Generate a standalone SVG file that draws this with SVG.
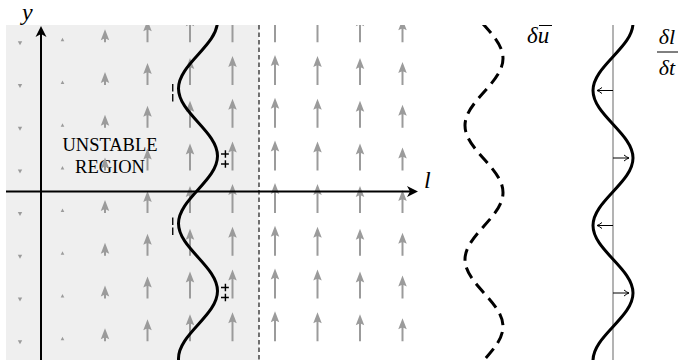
<svg xmlns="http://www.w3.org/2000/svg" xmlns:xlink="http://www.w3.org/1999/xlink" width="679" height="360" viewBox="0 0 679 360">
<style>
.curve{fill:none;stroke:#000;stroke-width:3}
.axis{fill:none;stroke:#000;stroke-width:2}
.qv{fill:#9b9b9b}
.math{font-family:"Liberation Serif","DejaVu Serif",serif;font-style:italic;fill:#000}
.lbl{font-family:"Liberation Serif","Times New Roman",serif;font-size:18.5px;fill:#000;text-anchor:middle}
.sign{font-family:"DejaVu Sans",sans-serif;font-weight:bold;font-size:12px;letter-spacing:0px;text-anchor:middle;dominant-baseline:central;fill:#000}
.thin{fill:none;stroke:#000;stroke-width:1}
</style>
<defs>
<filter id="gray" x="-50%" y="-50%" width="200%" height="200%"><feColorMatrix type="saturate" values="0"/></filter>
<clipPath id="plotclip"><rect x="6" y="25" width="420" height="335"/></clipPath>
<clipPath id="rclip"><rect x="440" y="25" width="239" height="335"/></clipPath>
<marker id="axh" viewBox="0 0 12 12" refX="7" refY="6" markerWidth="12" markerHeight="12" markerUnits="userSpaceOnUse" orient="auto">
<path d="M0,0.5 L11,6 L0,11.5 L3,6 Z" fill="#000"/>
</marker>
<marker id="sm" viewBox="-6 -4 7 8" refX="0" refY="0" markerWidth="7" markerHeight="8" markerUnits="userSpaceOnUse" orient="auto">
<path d="M-5,-3 Q-2,-0.6 0,0 Q-2,0.6 -5,3" fill="none" stroke="#000" stroke-width="1"/>
</marker>
<g id="row" class="qv">
<path d="M17.8,-1 L22.2,-1 L20,3 Z"/>
<path d="M60.7,-1 L64.3,-1 L62.5,-4.5 Z"/>
<path d="M104,0 L104,-3.5 L100.75,-2 L105,-13 L109.25,-2 L106,-3.5 L106,0 Z"/>
<path d="M146.5,0 L146.5,-12.5 L143.25,-11 L147.5,-22 L151.75,-11 L148.5,-12.5 L148.5,0 Z"/>
<path d="M189,0 L189,-17.5 L185.75,-16 L190,-27 L194.25,-16 L191,-17.5 L191,0 Z"/>
<path d="M231.5,0 L231.5,-19.5 L228.25,-18 L232.5,-29 L236.75,-18 L233.5,-19.5 L233.5,0 Z"/>
<path d="M274,0 L274,-20.5 L270.75,-19 L275,-30 L279.25,-19 L276,-20.5 L276,0 Z"/>
<path d="M316.5,0 L316.5,-19.5 L313.25,-18 L317.5,-29 L321.75,-18 L318.5,-19.5 L318.5,0 Z"/>
<path d="M359,0 L359,-17.5 L355.75,-16 L360,-27 L364.25,-16 L361,-17.5 L361,0 Z"/>
<path d="M401.5,0 L401.5,-13.5 L398.25,-12 L402.5,-23 L406.75,-12 L403.5,-13.5 L403.5,0 Z"/>
</g>
</defs>

<g id="unstable-region">
<rect x="6" y="25" width="253" height="335" fill="#efefef"/>
<line x1="259" y1="25" x2="259" y2="360" stroke="#444" stroke-width="1.5" stroke-dasharray="4.5 3"/>
<text class="lbl" x="110" y="151">UNSTABLE</text>
<text class="lbl" x="110" y="172.5">REGION</text>
</g>

<g id="velocity-field" clip-path="url(#plotclip)">
<use xlink:href="#row" href="#row" y="42.3"/>
<use xlink:href="#row" href="#row" y="85"/>
<use xlink:href="#row" href="#row" y="127.7"/>
<use xlink:href="#row" href="#row" y="170.4"/>
<use xlink:href="#row" href="#row" y="213.1"/>
<use xlink:href="#row" href="#row" y="255.8"/>
<use xlink:href="#row" href="#row" y="298.5"/>
<use xlink:href="#row" href="#row" y="341.2"/>
</g>

<g id="connectors">
<line class="axis" x1="41" y1="360" x2="41" y2="30" marker-end="url(#axh)"/>
<line class="axis" x1="6" y1="191.5" x2="414" y2="191.5" marker-end="url(#axh)"/>
<line x1="613" y1="25" x2="613" y2="360" stroke="#9a9a9a" stroke-width="1.5"/>
<line class="thin" x1="613" y1="90.5" x2="597" y2="90.5" marker-end="url(#sm)"/>
<line class="thin" x1="613" y1="158" x2="629" y2="158" marker-end="url(#sm)"/>
<line class="thin" x1="613" y1="225.5" x2="597" y2="225.5" marker-end="url(#sm)"/>
<line class="thin" x1="613" y1="293" x2="629" y2="293" marker-end="url(#sm)"/>
</g>

<g id="axis-labels">
<text class="math" x="22" y="20" font-size="24">y</text>
<text class="math" x="424" y="188" font-size="24">l</text>
</g>

<g id="interface" clip-path="url(#plotclip)">
<path class="curve" d="M217.5,21 C217.5,45.5 178.5,64 178.5,88.5 C178.5,113 217.5,131.5 217.5,156 C217.5,180.5 178.5,199 178.5,223.5 C178.5,248 217.5,266.5 217.5,291 C217.5,315.5 178.5,334 178.5,358.5 C178.5,383 217.5,401.5 217.5,426"/>
</g>

<g id="signs" filter="url(#gray)">
<text class="sign" transform="translate(173,92.5) rotate(90)">−−</text>
<text class="sign" transform="translate(224.5,159) rotate(90)">++</text>
<text class="sign" transform="translate(173,226) rotate(90)">−−</text>
<text class="sign" transform="translate(224.5,292.5) rotate(90)">++</text>
</g>

<g id="du-curve" clip-path="url(#rclip)">
<path class="curve" stroke-dasharray="12 7" d="M465,-8.5 C465,15.85 503,34.15 503,58.5 C503,82.85 465,101.15 465,125.5 C465,149.850 503,168.15 503,192.5 C503,216.85 465,235.15 465,259.5 C465,283.85 503,302.15 503,326.5 C503,350.85 465,369.15 465,393.5"/>
</g>
<g id="du-label">
<text class="math" x="527" y="43" font-size="23">δu</text>
<line x1="539" y1="25.5" x2="552" y2="25.5" stroke="#000" stroke-width="1"/>
</g>

<g id="dl-curve" clip-path="url(#rclip)">
<path class="curve" d="M633,23 C633,47.5 593,66 593,90.5 C593,115 633,133.5 633,158 C633,182.5 593,201 593,225.5 C593,250 633,268.5 633,293 C633,317.5 593,336 593,360.5"/>
</g>
<g id="dl-label">
<text class="math" x="667" y="44" font-size="22" text-anchor="middle">δl</text>
<line x1="657" y1="52" x2="678" y2="52" stroke="#000" stroke-width="1"/>
<text class="math" x="667" y="75" font-size="22" text-anchor="middle">δt</text>
</g>
</svg>
